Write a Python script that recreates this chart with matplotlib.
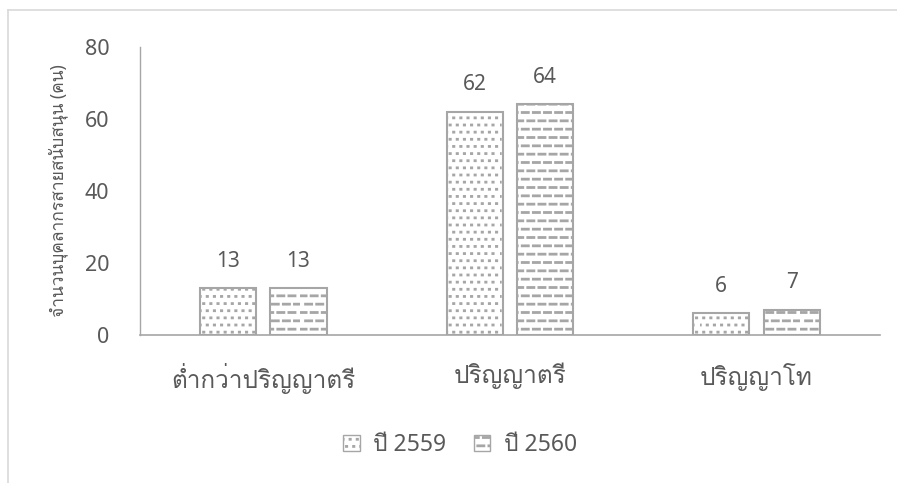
import matplotlib
matplotlib.use("Agg")
import matplotlib.pyplot as plt
import matplotlib.hatch as mhatch
from matplotlib.patches import Patch
from matplotlib import font_manager
from matplotlib.ft2font import FT2Font
import numpy as np
import warnings
warnings.filterwarnings("ignore")

categories = ["ต่ำกว่าปริญญาตรี", "ปริญญาตรี", "ปริญญาโท"]
series_names = ["ปี 2559", "ปี 2560"]
values_2559 = [13, 62, 6]
values_2560 = [13, 64, 7]
yticks = [0, 20, 40, 60, 80]
ylabel = "จำนวนบุคลากรสายสนับสนุน (คน)"

# ---- find a font with Thai glyphs ----
thai_family = None
for f in font_manager.fontManager.ttflist:
    try:
        cm = FT2Font(f.fname).get_charmap()
        if ord("ก") in cm and ord("ป") in cm:
            thai_family = f.name
            if "Sans" in f.name or "Loma" in f.name:
                break
    except Exception:
        pass
fams = ["Noto Sans"] + ([thai_family] if thai_family else []) + ["DejaVu Sans"]
plt.rcParams["font.family"] = fams


# ---- custom hatches ----
class DashHatch(mhatch.HatchPatternBase):
    def __init__(self, hatch, density):
        self.n = hatch.count("_")
        self.rows = 12
        self.per_row = 9
        self.num_lines = self.rows * self.per_row if self.n else 0
        self.num_vertices = self.num_lines * 2

    def set_vertices_and_codes(self, vertices, codes):
        k = 0
        step = 1.0 / self.per_row
        dash = step * 0.55
        for r in range(self.rows):
            y = (r + 0.5) / self.rows
            off = (step / 2.0) if (r % 2) else 0.0
            for c in range(self.per_row):
                x0 = (c * step + off) % 1.0
                x1 = x0 + dash
                vertices[k] = (x0, y)
                vertices[k + 1] = (min(x1, 1.0), y)
                codes[k] = 1
                codes[k + 1] = 2
                k += 2


class DotHatch(mhatch.HatchPatternBase):
    def __init__(self, hatch, density):
        self.n = hatch.count(":")
        self.rows = 14
        self.per_row = 14
        self.num_lines = self.rows * self.per_row if self.n else 0
        self.num_vertices = self.num_lines * 2

    def set_vertices_and_codes(self, vertices, codes):
        k = 0
        step = 1.0 / self.per_row
        d = 0.003
        for r in range(self.rows):
            y = (r + 0.5) / self.rows
            off = (step / 2.0) if (r % 2) else 0.0
            for c in range(self.per_row):
                x0 = (c * step + off) % 1.0
                vertices[k] = (x0, y)
                vertices[k + 1] = (min(x0 + d, 1.0), y)
                codes[k] = 1
                codes[k + 1] = 2
                k += 2


mhatch._hatch_types.append(DashHatch)
mhatch._hatch_types.append(DotHatch)

plt.rcParams["hatch.color"] = "#7f7f7f"
plt.rcParams["hatch.linewidth"] = 2.0

text_color = "#595959"
edge_color = "#a6a6a6"
spine_color = "#a6a6a6"

fig = plt.figure(figsize=(8.97, 4.83), dpi=100)
ax = fig.add_axes([0.156, 0.3064, 0.825, 0.5966])

x = np.arange(len(categories))
w = 0.228
gap = 0.058
b1 = ax.bar(x - (w + gap) / 2, values_2559, w, color="white", edgecolor=edge_color,
            linewidth=1.5, hatch=":", label=series_names[0])
b2 = ax.bar(x + (w + gap) / 2, values_2560, w, color="white", edgecolor=edge_color,
            linewidth=1.5, hatch="_", label=series_names[1])

for bars, vals in ((b1, values_2559), (b2, values_2560)):
    ax.bar_label(bars, labels=[str(v) for v in vals], padding=12,
                 fontsize=15, color=text_color)

ax.set_xlim(-0.5, len(categories) - 0.5)
ax.set_ylim(0, 80)
ax.set_yticks(yticks)
ax.set_xticks(x)
ax.set_xticklabels(categories, fontsize=17.5)
ax.tick_params(axis="both", length=0, colors=text_color)
ax.tick_params(axis="y", pad=22, labelsize=15.5)
ax.tick_params(axis="x", pad=20)
for s in ("top", "right"):
    ax.spines[s].set_visible(False)
ax.spines["left"].set_color(spine_color)
ax.spines["bottom"].set_color(spine_color)
ax.spines["left"].set_linewidth(1.0)
ax.spines["bottom"].set_linewidth(1.2)

ax.set_ylabel(ylabel, fontsize=12.5, color=text_color, labelpad=12)

handles = [Patch(facecolor="white", edgecolor=edge_color, hatch=":", label=series_names[0]),
           Patch(facecolor="white", edgecolor=edge_color, hatch="_", label=series_names[1])]
fig.legend(handles=handles, loc="center", bbox_to_anchor=(0.513, 0.078), ncol=2,
           frameon=False, fontsize=16.5, labelcolor=text_color, handlelength=0.7,
           handleheight=0.7, handletextpad=0.6, columnspacing=1.2)

# chart frame
fig.add_artist(plt.Line2D([8 / 897, 8 / 897], [0, 1 - 10 / 483], transform=fig.transFigure,
                          color="#d9d9d9", linewidth=1.2))
fig.add_artist(plt.Line2D([8 / 897, 1], [1 - 10 / 483, 1 - 10 / 483], transform=fig.transFigure,
                          color="#d9d9d9", linewidth=1.2))

fig.savefig("out.png", dpi=100, facecolor="white")
